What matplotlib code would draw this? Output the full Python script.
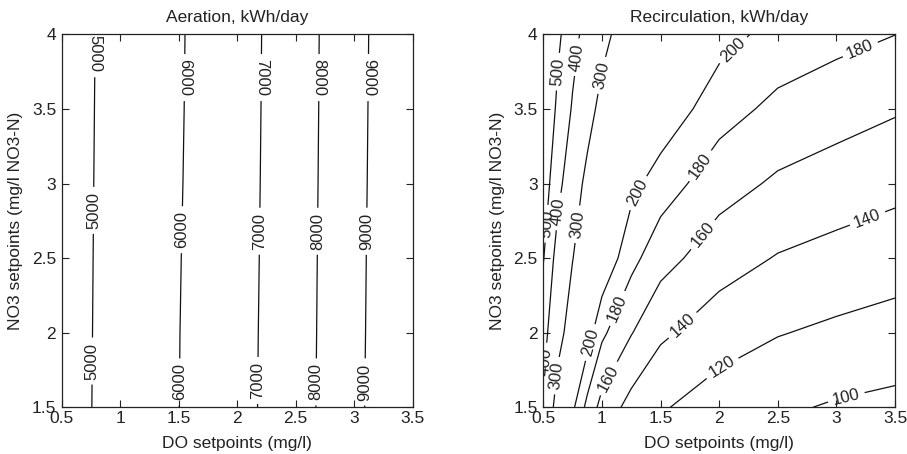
import matplotlib
matplotlib.use("Agg")
import matplotlib.pyplot as plt
import numpy as np

plt.rcParams['font.family'] = ['Liberation Sans', 'DejaVu Sans']

# ---------------- data ----------------
# Aeration energy (kWh/day) on DO x NO3 setpoint grid
aer_do = [0.5, 1.0, 1.5, 2.0, 2.5, 3.0, 3.5]
aer_no3 = [1.5, 2.0, 2.5, 3.0, 3.5, 4.0]
aer_kwh = [
    [4660, 5320, 5993, 6680, 7600, 8760, 10100],
    [4655, 5310, 5985, 6670, 7585, 8745, 10060],
    [4652, 5300, 5970, 6655, 7570, 8735, 10020],
    [4648, 5290, 5950, 6640, 7555, 8720, 9980],
    [4644, 5280, 5935, 6630, 7540, 8710, 9945],
    [4640, 5271, 5925, 6620, 7530, 8700, 9910],
]
aer_levels = [5000, 6000, 7000, 8000, 9000]

# Recirculation energy (kWh/day)
rec_do = [0.5, 0.625, 0.75, 0.875, 1.0, 1.25, 1.5, 2.0, 2.5, 3.0, 3.5]
rec_no3 = [1.5, 2.0, 2.5, 3.0, 3.5, 4.0]
rec_kwh = [
    [385, 260, 204, 174, 153, 133, 122, 110, 103, 98, 95],
    [430, 328, 260, 210, 184, 161, 143.5, 129.3, 121, 116.2, 112.2],
    [506, 355, 302, 250, 217, 186, 167.5, 148.6, 138.8, 133.6, 129.0],
    [553, 430, 330, 285, 246, 206, 190.1, 168.3, 156.9, 150.7, 145.4],
    [611, 475, 391, 322, 282.5, 238.6, 214.8, 188.1, 175, 168.2, 161.9],
    [660, 520, 430, 366.5, 317, 265, 237.6, 207.9, 192.9, 186, 180.2],
]
rec_levels = [100, 120, 140, 160, 180, 200, 300, 400, 500]

x_ticks = [0.5, 1, 1.5, 2, 2.5, 3, 3.5]
x_tick_labels = ['0.5', '1', '1.5', '2', '2.5', '3', '3.5']
y_ticks = [1.5, 2, 2.5, 3, 3.5, 4]
y_tick_labels = ['1.5', '2', '2.5', '3', '3.5', '4']

titles = ['Aeration, kWh/day', 'Recirculation, kWh/day']
x_label = 'DO setpoints (mg/l)'
y_label = 'NO3 setpoints (mg/l NO3-N)'

# label anchor points (near contour lines)
aer_label_pts = [(0.785, 3.87), (0.78, 2.82), (0.77, 1.81),
                 (1.55, 3.71), (1.54, 2.69), (1.51, 1.67),
                 (2.22, 3.71), (2.21, 2.68), (2.18, 1.68),
                 (2.71, 3.71), (2.70, 2.68), (2.68, 1.67),
                 (3.12, 3.71), (3.11, 2.68), (3.09, 1.67)]
rec_label_pts = [(0.614, 3.75), (0.53, 2.73),
                 (0.79, 3.846), (0.648, 2.81), (0.53, 1.806),
                 (0.983, 3.727), (0.77, 2.729), (0.614, 1.712),
                 (2.12, 3.895), (1.325, 2.93), (0.875, 1.94),
                 (3.20, 3.906), (1.83, 3.124), (1.11, 2.17),
                 (1.865, 2.655), (1.03, 1.705),
                 (3.259, 2.778), (1.686, 2.052),
                 (2.02, 1.773),
                 (3.08, 1.583)]

# ---------------- figure ----------------
W, H = 907, 454
fig = plt.figure(figsize=(W / 100, H / 100), dpi=100)
txt_col = '#222222'
fs_tick = 12.5
fs_lab = 12.5
fs_cl = 12

axes_boxes = [
    (61.7 / W, (H - 407.3) / H, 351.0 / W, 373.0 / H),
    (543.3 / W, (H - 407.3) / H, 351.7 / W, 373.0 / H),
]

datasets = [
    (aer_do, aer_no3, aer_kwh, aer_levels, aer_label_pts),
    (rec_do, rec_no3, rec_kwh, rec_levels, rec_label_pts),
]

for i, (box, (xs, ys, zs, lv, lpts)) in enumerate(zip(axes_boxes, datasets)):
    ax = fig.add_axes(box)
    X, Y = np.meshgrid(np.array(xs), np.array(ys))
    Z = np.array(zs, dtype=float)
    cs = ax.contour(X, Y, Z, levels=lv, colors='#111111', linewidths=0.9)
    ax.set_xlim(0.5, 3.5)
    ax.set_ylim(1.5, 4)
    ax.clabel(cs, manual=lpts, inline=True, inline_spacing=5,
              fontsize=fs_cl, fmt='%d', colors=txt_col)
    if i == 0:
        for t in cs.labelTexts:
            px, py = t.get_position()
            t.set_rotation(270 if py > 3.4 else 90)
    ax.set_xticks(x_ticks)
    ax.set_xticklabels(x_tick_labels)
    ax.set_yticks(y_ticks)
    ax.set_yticklabels(y_tick_labels)
    ax.tick_params(direction='in', top=True, right=True, length=5, width=0.8,
                   labelsize=fs_tick, colors=txt_col)
    ax.tick_params(axis='x', pad=3)
    ax.tick_params(axis='y', pad=4)
    for sp in ax.spines.values():
        sp.set_linewidth(0.9)
        sp.set_color('#222222')
    ax.set_title(titles[i], fontsize=fs_lab, color=txt_col, pad=9)
    ax.set_xlabel(x_label, fontsize=fs_lab, color=txt_col, labelpad=7)
    ax.set_ylabel(y_label, fontsize=fs_lab, color=txt_col, labelpad=6)

fig.savefig('out.png', dpi=100)
